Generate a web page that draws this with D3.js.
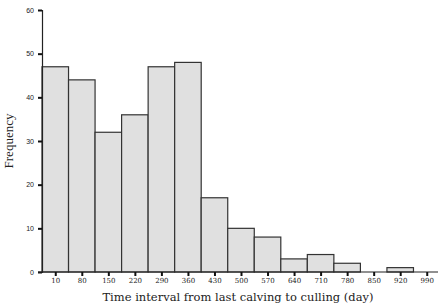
<!DOCTYPE html>
<html>
<head>
<meta charset="utf-8">
<script src="https://cdn.jsdelivr.net/npm/d3@7"></script>
<style>
  body { margin: 0; background: #fff; }
</style>
</head>
<body>
<div id="chart"></div>
<script>
// bin centres (day) and counts
const binCenters = [10, 80, 150, 220, 290, 360, 430, 500, 570, 640, 710, 780, 850, 920, 990];
const frequencies = [47, 44, 32, 36, 47, 48, 17, 10, 8, 3, 4, 2, 0, 1, 0];
const yTicks = [0, 10, 20, 30, 40, 50, 60];
const binWidth = 70;

const width = 444, height = 308;
const margin = { top: 10, right: 4, bottom: 36, left: 42 };

const svg = d3.select("#chart")
    .append("svg")
    .attr("width", width)
    .attr("height", height);

const x = d3.scaleLinear()
    .domain([binCenters[0] - binWidth / 2, binCenters[binCenters.length - 1] + binWidth / 2])
    .range([margin.left, width - margin.right]);

const y = d3.scaleLinear()
    .domain([0, 60])
    .range([height - margin.bottom, margin.top]);

// bars
svg.selectAll(".bar")
    .data(binCenters.map((c, i) => ({ c, v: frequencies[i] })).filter(d => d.v > 0))
    .enter()
    .append("rect")
    .attr("class", "bar")
    .attr("x", d => x(d.c - binWidth / 2))
    .attr("y", d => y(d.v))
    .attr("width", d => x(d.c + binWidth / 2) - x(d.c - binWidth / 2))
    .attr("height", d => y(0) - y(d.v))
    .attr("fill", "#e0e0e0")
    .attr("stroke", "#333")
    .attr("stroke-width", 1.2);

// y axis
const yAxis = svg.append("g")
    .attr("transform", `translate(${margin.left},0)`)
    .call(d3.axisLeft(y).tickValues(yTicks).tickSize(4).tickPadding(4));
yAxis.select(".domain").attr("stroke", "#222").attr("stroke-width", 1.2);
yAxis.selectAll(".tick line").attr("stroke", "#111").attr("stroke-width", 2);
yAxis.selectAll("text")
    .style("font-family", "Liberation Sans, Arial, sans-serif")
    .style("font-size", "7px")
    .attr("fill", "#222");

// x axis
const xAxis = svg.append("g")
    .attr("transform", `translate(0,${y(0)})`)
    .call(d3.axisBottom(x).tickValues(binCenters).tickSize(4).tickSizeOuter(0).tickPadding(2));
xAxis.select(".domain").attr("stroke", "#222").attr("stroke-width", 1.2)
    .attr("d", `M${margin.left - 4},0H${width - 6}`);
xAxis.selectAll(".tick line").attr("stroke", "#111").attr("stroke-width", 2);
xAxis.selectAll("text")
    .style("font-family", "DejaVu Serif, serif")
    .style("font-size", "7px")
    .attr("fill", "#222");

// axis titles
svg.append("text")
    .attr("x", 238)
    .attr("y", 301)
    .attr("text-anchor", "middle")
    .style("font-family", "DejaVu Serif, serif")
    .style("font-size", "11.5px")
    .attr("fill", "#222")
    .text("Time interval from last calving to culling (day)");

svg.append("text")
    .attr("transform", "translate(13,141) rotate(-90)")
    .attr("text-anchor", "middle")
    .style("font-family", "Liberation Serif, serif")
    .style("font-size", "13px")
    .attr("fill", "#222")
    .text("Frequency");
</script>
</body>
</html>
